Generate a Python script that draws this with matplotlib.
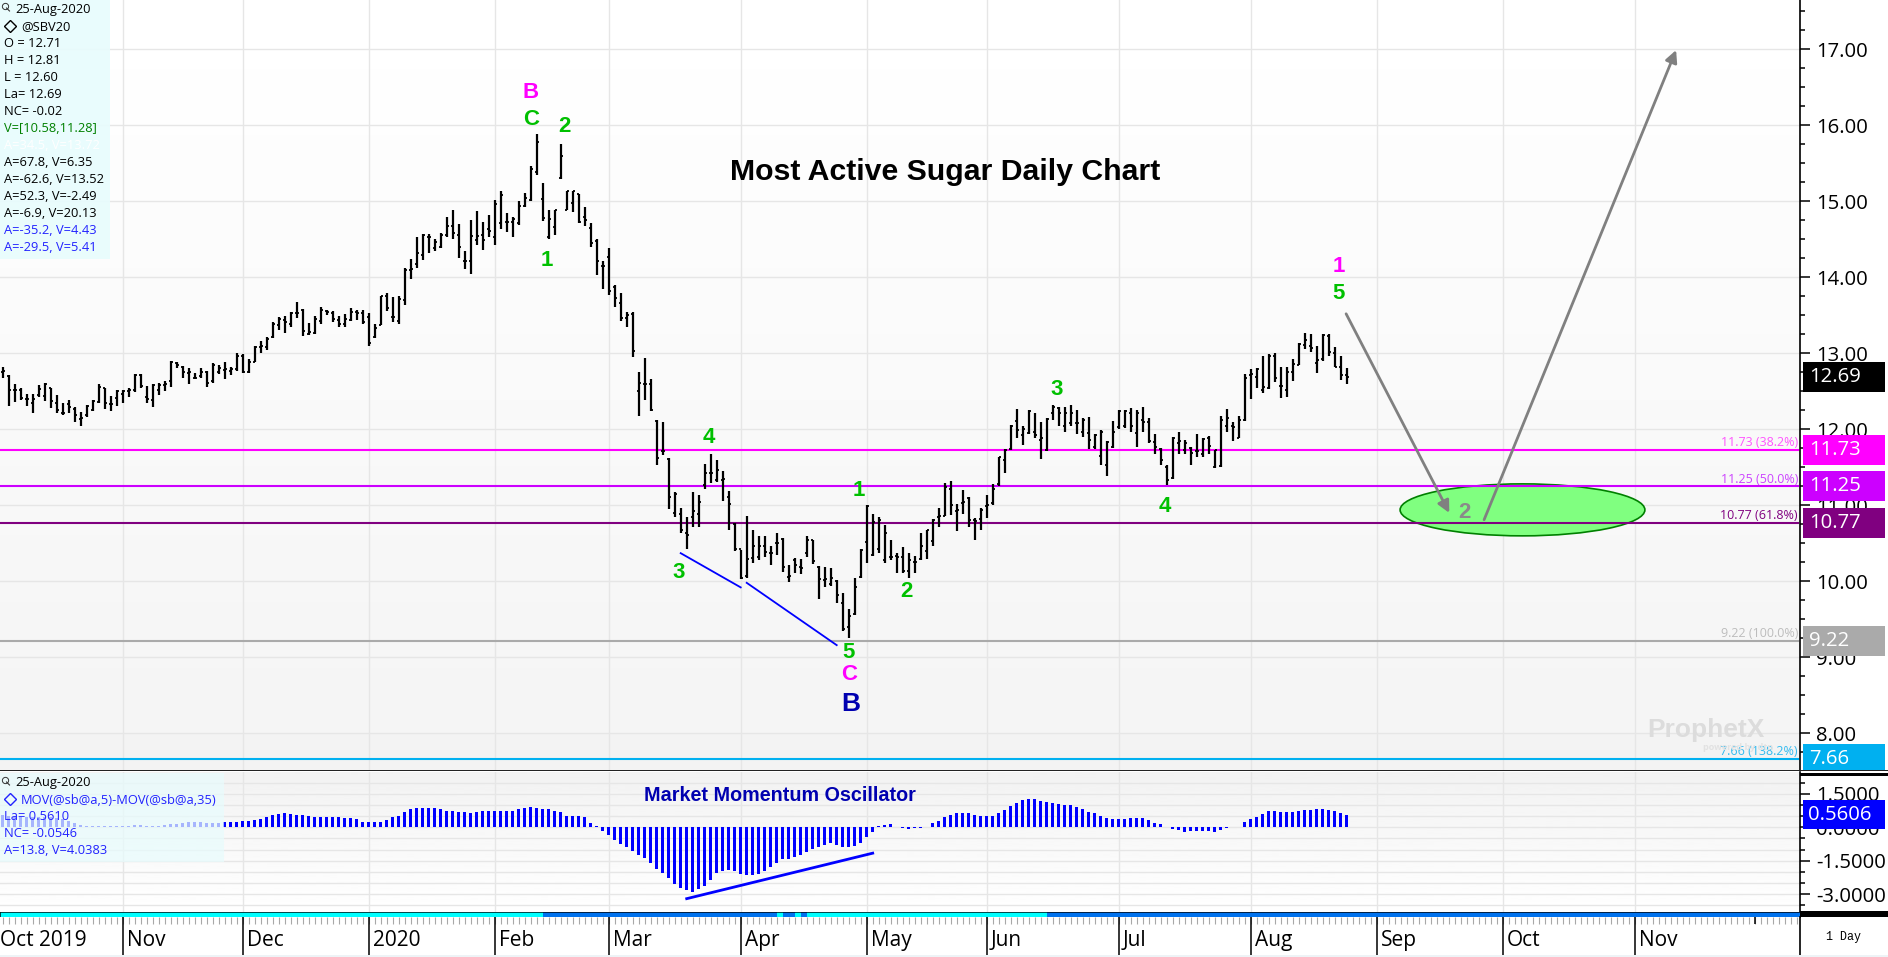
import numpy as np
import matplotlib
matplotlib.use("Agg")
import matplotlib.pyplot as plt
from matplotlib.patches import Ellipse, Rectangle
from matplotlib.ticker import FixedLocator, NullFormatter

highs = [12.82,12.72,12.59,12.55,12.46,12.46,12.58,12.61,12.55,12.45,
12.35,12.39,12.29,12.23,12.32,12.39,12.59,12.55,12.44,12.52,
12.52,12.55,12.73,12.73,12.57,12.59,12.61,12.63,12.90,12.88,
12.83,12.81,12.74,12.81,12.77,12.87,12.85,12.89,12.82,13.01,
12.99,12.92,13.10,13.16,13.21,13.41,13.48,13.49,13.54,13.67,
13.58,13.40,13.49,13.61,13.57,13.56,13.49,13.52,13.60,13.57,
13.57,13.53,13.39,13.76,13.79,13.74,13.76,14.12,14.24,14.53,
14.57,14.57,14.50,14.58,14.79,14.89,14.70,14.35,14.75,14.87,
14.73,14.82,15.02,15.13,14.85,14.80,15.00,15.11,15.46,15.89,
15.24,14.89,14.89,15.76,15.14,15.14,15.10,14.92,14.72,14.50,
14.21,14.39,13.90,13.79,13.54,13.54,12.75,12.94,12.66,12.12,
12.10,11.62,11.17,10.97,10.85,11.18,11.13,11.55,11.68,11.59,
11.45,11.19,10.77,10.41,10.86,10.67,10.59,10.59,10.46,10.64,
10.57,10.21,10.31,10.30,10.60,10.54,10.20,10.19,10.18,10.02,
9.84,9.63,10.04,10.43,11.01,10.89,10.85,10.74,10.55,10.37,
10.45,10.37,10.33,10.63,10.68,10.82,10.96,11.30,11.32,11.02,
11.20,11.11,10.83,10.96,11.13,11.28,11.64,11.74,12.06,12.27,
12.04,12.25,12.21,12.09,12.15,12.32,12.30,12.30,12.32,12.25,
12.15,12.16,11.94,11.99,11.84,12.11,12.25,12.25,12.28,12.25,
12.29,12.15,11.94,11.75,11.53,11.90,11.97,11.86,11.77,11.94,
11.89,11.91,11.73,12.18,12.27,12.10,12.18,12.73,12.80,12.81,
12.96,12.99,13.00,12.82,12.82,12.93,13.14,13.27,13.25,13.10,
13.25,13.25,13.08,12.97,12.81]

lows = [12.68,12.31,12.36,12.39,12.31,12.22,12.43,12.37,12.28,12.21,
12.19,12.22,12.10,12.05,12.16,12.24,12.34,12.27,12.24,12.31,
12.34,12.43,12.49,12.55,12.35,12.29,12.45,12.50,12.56,12.81,
12.68,12.60,12.66,12.67,12.56,12.61,12.73,12.66,12.71,12.77,
12.74,12.74,12.88,13.01,13.05,13.20,13.31,13.27,13.34,13.47,
13.23,13.24,13.26,13.39,13.51,13.41,13.35,13.35,13.42,13.44,
13.39,13.10,13.20,13.37,13.56,13.41,13.39,13.64,13.98,14.12,
14.23,14.32,14.34,14.39,14.53,14.50,14.26,14.11,14.05,14.42,
14.36,14.53,14.42,14.64,14.60,14.53,14.69,14.92,15.00,15.35,
14.74,14.50,14.56,15.30,14.88,14.86,14.71,14.67,14.40,14.03,
13.85,13.77,13.61,13.43,13.35,12.95,12.18,12.38,12.24,11.53,
11.66,10.95,10.85,10.64,10.43,10.72,10.72,11.21,11.29,11.31,
11.06,10.68,10.40,10.03,10.05,10.24,10.28,10.32,10.22,10.35,
10.12,9.99,10.11,10.10,10.32,10.23,9.77,9.93,9.94,9.71,
9.34,9.25,9.56,10.04,10.24,10.33,10.37,10.24,10.28,10.11,
10.11,10.05,10.11,10.28,10.29,10.47,10.72,10.86,10.87,10.66,
10.89,10.72,10.55,10.68,10.83,11.01,11.26,11.43,11.73,11.88,
11.80,11.94,11.88,11.61,11.71,12.12,12.04,11.96,12.04,11.94,
11.90,11.74,11.74,11.53,11.39,11.75,12.01,12.02,11.97,11.77,
11.97,11.82,11.68,11.53,11.27,11.34,11.68,11.68,11.53,11.64,
11.64,11.68,11.49,11.51,11.96,11.85,11.89,12.11,12.40,12.55,
12.48,12.53,12.62,12.41,12.43,12.64,12.84,13.06,13.02,12.74,
12.90,12.97,12.82,12.65,12.60]

opens = [12.76,12.70,12.52,12.52,12.40,12.34,12.45,12.44,12.54,12.34,
12.22,12.33,12.27,12.14,12.19,12.26,12.36,12.54,12.33,12.41,
12.47,12.51,12.52,12.72,12.42,12.38,12.52,12.58,12.63,12.87,
12.82,12.74,12.68,12.70,12.76,12.63,12.76,12.78,12.77,12.80,
12.97,12.75,12.89,13.08,13.08,13.22,13.37,13.44,13.39,13.53,
13.57,13.26,13.27,13.43,13.56,13.53,13.44,13.38,13.44,13.54,
13.53,13.48,13.22,13.37,13.75,13.48,13.42,13.70,14.10,14.18,
14.29,14.53,14.38,14.40,14.56,14.67,14.56,14.21,14.21,14.49,
14.56,14.64,14.53,14.71,14.73,14.73,14.71,14.94,15.02,15.38,
15.03,14.53,14.66,15.31,14.89,14.98,15.10,14.80,14.65,14.48,
14.15,14.27,13.87,13.66,13.47,13.52,12.51,12.60,12.60,12.11,
11.71,11.61,10.90,10.88,10.63,10.85,10.89,11.27,11.42,11.33,
11.33,11.11,10.76,10.42,10.07,10.31,10.32,10.46,10.37,10.50,
10.56,10.06,10.28,10.19,10.37,10.54,10.19,10.02,9.97,10.01,
9.71,9.40,9.57,10.06,10.52,10.35,10.43,10.28,10.32,10.33,
10.32,10.13,10.26,10.30,10.40,10.53,10.85,10.86,11.22,10.92,
11.03,11.10,10.81,10.82,10.99,11.03,11.28,11.60,11.74,12.11,
11.93,11.95,11.97,11.86,11.73,12.21,12.28,12.04,12.08,12.08,
11.96,11.95,11.77,11.65,11.53,11.77,12.03,12.05,12.22,11.95,
12.12,12.10,11.83,11.74,11.51,11.36,11.82,11.73,11.75,11.71,
11.68,11.88,11.50,11.52,12.04,12.04,11.89,12.12,12.72,12.69,
12.52,12.54,12.97,12.57,12.52,12.75,12.85,13.11,13.09,12.87,
12.92,13.23,13.00,12.82,12.71]

closes = [12.77,12.52,12.52,12.41,12.40,12.40,12.53,12.60,12.37,12.25,
12.21,12.30,12.19,12.15,12.31,12.37,12.56,12.34,12.33,12.51,
12.50,12.52,12.72,12.57,12.40,12.58,12.58,12.60,12.88,12.84,
12.76,12.76,12.68,12.76,12.61,12.85,12.81,12.80,12.80,12.97,
12.75,12.88,13.08,13.09,13.19,13.38,13.45,13.41,13.53,13.53,
13.30,13.28,13.45,13.57,13.54,13.45,13.38,13.45,13.54,13.53,
13.41,13.14,13.33,13.75,13.59,13.48,13.72,14.09,14.11,14.32,
14.56,14.53,14.46,14.56,14.67,14.58,14.40,14.21,14.55,14.54,
14.49,14.61,14.96,15.08,14.73,14.77,14.94,15.05,15.43,15.78,
14.78,14.77,14.89,15.59,15.13,15.13,14.73,14.75,14.45,14.21,
14.15,13.82,13.73,13.47,13.50,13.03,12.61,12.60,12.26,11.62,
11.71,11.11,11.15,10.67,10.61,10.92,11.05,11.42,11.42,11.46,
11.34,11.02,10.42,10.04,10.30,10.46,10.46,10.39,10.37,10.51,
10.19,10.07,10.21,10.17,10.54,10.27,10.03,10.03,10.04,9.82,
9.37,9.54,9.93,10.41,10.99,10.78,10.81,10.64,10.32,10.32,
10.13,10.28,10.26,10.47,10.68,10.81,10.86,11.24,11.00,10.94,
11.05,10.81,10.80,10.94,11.00,11.22,11.63,11.73,12.05,11.99,
12.01,12.24,11.92,11.88,12.14,12.30,12.21,12.21,12.21,12.08,
12.12,11.86,11.93,11.97,11.83,11.97,12.24,12.24,12.04,12.21,
12.10,11.84,11.77,11.60,11.33,11.88,11.84,11.82,11.69,11.71,
11.87,11.78,11.73,12.12,12.15,12.03,12.12,12.68,12.73,12.80,
12.56,12.97,12.68,12.57,12.75,12.86,13.12,13.17,13.07,12.91,
13.24,13.02,12.82,12.71,12.69]

oscillator = [.55,.50,.45,.45,.45,.45,.45,.45,.45,.40,
.35,.30,.20,.10,.08,.08,.08,.08,.08,.08,
.07,.07,.09,.09,.08,.07,.07,.10,.15,.17,
.20,.23,.23,.22,.20,.20,.20,.24,.25,.25,
.27,.27,.32,.36,.48,.55,.60,.62,.60,.57,
.54,.50,.47,.45,.44,.44,.44,.42,.40,.36,
.26,.25,.23,.26,.33,.45,.50,.70,.82,.85,
.88,.88,.85,.80,.75,.72,.68,.70,.65,.70,
.72,.72,.72,.72,.72,.72,.80,.85,.92,.88,
.82,.80,.75,.69,.51,.51,.51,.45,.21,.06,
-.15,-.34,-.57,-.75,-.87,-1.06,-1.24,-1.39,-1.58,-1.85,
-2.06,-2.27,-2.56,-2.71,-2.81,-2.88,-2.77,-2.62,-2.36,-2.06,
-1.94,-1.91,-1.94,-2.09,-2.14,-2.14,-2.09,-1.96,-1.76,-1.58,
-1.43,-1.42,-1.32,-1.24,-1.09,-.99,-.87,-.81,-.72,-.79,
-.87,-.87,-.84,-.69,-.43,-.21,.04,.10,.15,.01,
-.02,-.07,-.05,-.02,0,.18,.28,.48,.55,.63,
.66,.66,.55,.51,.51,.51,.66,.78,.97,1.11,
1.23,1.27,1.27,1.18,1.14,1.08,1.03,1.0,1.0,.90,
.81,.70,.63,.51,.40,.37,.37,.37,.42,.42,
.40,.33,.21,.13,0,-.06,-.10,-.19,-.18,-.18,
-.18,-.17,-.19,-.12,-.05,.01,.03,.22,.36,.48,
.61,.73,.73,.70,.67,.70,.73,.76,.79,.81,
.82,.78,.73,.64,.56]

month_labels = ["Nov","Dec","2020","Feb","Mar","Apr","May","Jun","Jul","Aug","Sep","Oct","Nov"]
month_bars = [20,40,61,82,101,123,144,164,186,208,229,250,272]

fib_levels = [11.73, 11.25, 10.77, 9.22, 7.66]
fib_pcts = ["38.2%", "50.0%", "61.8%", "100.0%", "138.2%"]
fib_colors = ["#ff00ff", "#cc00ff", "#800080", "#aaaaaa", "#00b0f0"]
fib_textc = ["#ff55ff", "#cc44ff", "#800080", "#bdbdbd", "#33bbf0"]
last_price = 12.69
last_osc = 0.5606

wave_labels = [
    (88.05,16.43,"B","#ff00ff",16), (88.05,16.08,"C","#00c000",16),
    (93.7,15.99,"2","#00c000",16), (90.7,14.22,"1","#00c000",16),
    (112.7,10.12,"3","#00c000",16), (117.7,11.89,"4","#00c000",16),
    (142.7,11.20,"1","#00c000",16), (140.9,9.06,"5","#00c000",16),
    (150.7,9.87,"2","#00c000",16), (141.0,8.77,"C","#ff00ff",16),
    (141.3,8.39,"B","#0000b0",19), (175.7,12.53,"3","#00c000",16),
    (193.7,10.98,"4","#00c000",16), (222.7,14.14,"1","#ff00ff",16),
    (222.7,13.79,"5","#00c000",16), (243.7,10.90,"2","#8a8a8a",16),
]
price_trend_a = ([113.0,123.0],[10.37,9.92])
price_trend_b = ([124.0,139.0],[9.98,9.16])
osc_trend = ([114,145],[-3.20,-1.16])
arrow_down = ((223.9,13.52),(241.1,10.90))
arrow_up = ((246.9,10.81),(278.9,16.99))
target_zone = (253.3,10.94,40.8,0.684)

strip_edges = [-0.45,90,94,129,130,132,133,134,174,299.55]
strip_states = ["c","b","b","c","b","c","b","c","b"]

W, H = 1888, 957
plt.rcParams["font.family"] = ["Open Sans", "DejaVu Sans"]
BOLD = ["Liberation Sans", "DejaVu Sans"]
fig = plt.figure(figsize=(W/100, H/100), dpi=100, facecolor="#ffffff")

def px_axes(x0, y0, x1, y1, **kw):
    return fig.add_axes([x0/W, 1-y1/H, (x1-x0)/W, (y1-y0)/H], **kw)

XLIM = (-0.45, 299.55)
MAIN_Y = (7.517, 17.649)
OSC_Y = (-3.798, 2.48)
AXIS_FS = 14.6

# backgrounds
bg = px_axes(0,0,1800,770); bg.axis("off")
bg.imshow(np.linspace(1.0,0.955,256)[:,None], cmap="gray", vmin=0, vmax=1, aspect="auto")
bg2 = px_axes(0,772,1800,912); bg2.axis("off")
bg2.imshow(np.linspace(0.95,1.0,256)[:,None], cmap="gray", vmin=0, vmax=1, aspect="auto")

GRID = "#e6e6e6"
# main panel
ax = px_axes(0,0,1800,770, facecolor="none")
ax.set_xlim(*XLIM); ax.set_ylim(*MAIN_Y)
k = np.arange(len(highs))
ax.set_axisbelow(True)
ax.yaxis.tick_right()
for s in ("left","top","bottom"): ax.spines[s].set_visible(False)
ax.spines["right"].set_linewidth(1.2)
ax.set_yticks(np.arange(8,18))
ax.set_yticklabels([f"{v:.2f}" for v in np.arange(8,18)], fontsize=AXIS_FS, ha="left")
ax.yaxis.set_minor_locator(FixedLocator(np.arange(7.75,17.6,0.25)))
ax.yaxis.set_minor_formatter(NullFormatter())
ax.tick_params(axis="y", which="major", length=7.5, width=1.1, pad=4, color="black")
ax.tick_params(axis="y", which="minor", length=3.6, width=1.1, color="black")
ax.set_xticks(month_bars); ax.tick_params(axis="x", length=0, labelbottom=False)
ax.grid(True, which="major", color=GRID, lw=1.0)

ax.add_patch(Ellipse(target_zone[:2], target_zone[2], target_zone[3], fc="#80ff80", ec="#008000", lw=1.2, zorder=1.5))
for lev, col, tc, pct in zip(fib_levels, fib_colors, fib_textc, fib_pcts):
    ax.hlines(lev, XLIM[0], 299.3, color=col, lw=1.5, zorder=2)
    ax.annotate(f"{lev:.2f} ({pct})", (299.2, lev), xytext=(0,5.2), textcoords="offset points",
                ha="right", va="center", fontsize=9.0, color=tc, zorder=3)
ax.vlines(k, lows, highs, color="black", lw=1.6, zorder=3)
ax.hlines(opens, k-0.33, k, color="black", lw=1.3, zorder=3)
ax.hlines(closes, k, k+0.33, color="black", lw=1.3, zorder=3)

for tx, ty, s, c, fs in wave_labels:
    ax.text(tx, ty, s, color=c, fontsize=fs, family=BOLD, fontweight="bold", ha="center", va="center", zorder=4)
ax.plot(*price_trend_a, color="#0000ff", lw=1.3, zorder=3)
ax.plot(*price_trend_b, color="#0000ff", lw=1.3, zorder=3)
for a, b in (arrow_down, arrow_up):
    ax.annotate("", xy=b, xytext=a, zorder=5,
                arrowprops=dict(arrowstyle="-|>", color="#808080", lw=2.0, mutation_scale=18, shrinkA=0, shrinkB=0))
ax.text(945.0/6-0.45, 15.38, "Most Active Sugar Daily Chart", fontsize=21.8, family=BOLD,
        fontweight="bold", ha="center", va="center", color="black", zorder=4)

# oscillator panel
ox = px_axes(0,772,1800,912, facecolor="none")
ox.set_xlim(*XLIM); ox.set_ylim(*OSC_Y)
ox.set_axisbelow(True)
ox.yaxis.tick_right()
for s in ("left","top","bottom"): ox.spines[s].set_visible(False)
ox.spines["right"].set_linewidth(1.2)
ticks = [-3.0,-1.5,0.0,1.5]
ox.set_yticks(ticks); ox.set_yticklabels([f"{v:.4f}" for v in ticks], fontsize=AXIS_FS, ha="left")
ox.yaxis.set_minor_locator(FixedLocator(np.arange(-3.5,2.1,0.5)))
ox.yaxis.set_minor_formatter(NullFormatter())
ox.tick_params(axis="y", which="major", length=7.5, width=1.1, pad=4)
ox.tick_params(axis="y", which="minor", length=3.6, width=1.1)
ox.set_xticks(month_bars); ox.tick_params(axis="x", length=0, labelbottom=False)
ox.grid(True, which="both", color=GRID, lw=1.0)
ox.bar(k, oscillator, width=0.45, color="#0000ff", zorder=3)
ox.plot(*osc_trend, color="#0000ff", lw=2.0, zorder=3)
ox.text(779.5/6-0.45, 1.42, "Market Momentum Oscillator", fontsize=14.2, family=BOLD, fontweight="bold",
        color="#0000b0", ha="center", va="center", zorder=4)

# value flags, right of the axis
fx = px_axes(1803,0,1884.5,770, facecolor="none"); fx.axis("off")
fx.set_xlim(0,81.5); fx.set_ylim(*MAIN_Y)
flag_vals = [last_price]+fib_levels
flag_cols = ["#000000"]+fib_colors
fx.barh(flag_vals, 81.5, left=0, height=30/76, color=flag_cols)
for v in flag_vals:
    fx.text(6, v, f"{v:.2f}", color="white", fontsize=AXIS_FS, va="center", ha="left", clip_on=True)
fo = px_axes(1803,772,1884.5,912, facecolor="none"); fo.axis("off")
fo.set_xlim(0,81.5); fo.set_ylim(*OSC_Y)
fo.barh([last_osc], 81.5, left=0, height=29.3/22.3, color="#0000ff")
fo.text(5, last_osc, f"{last_osc:.4f}", color="white", fontsize=AXIS_FS, va="center", ha="left")

# signal strip
sx = px_axes(0,912,1800,917, facecolor="#00ffff")
sx.set_xlim(*XLIM); sx.set_ylim(0,1); sx.set_xticks([]); sx.set_yticks([])
for st, a, b in zip(strip_states, strip_edges[:-1], strip_edges[1:]):
    sx.barh(0.5, b-a, left=a, height=1, color="#00ffff" if st=="c" else "#0072ee")
for s in sx.spines.values(): s.set_linewidth(0.5); s.set_color("black")

# time axis
tx = px_axes(0,917,1800,955, facecolor="white")
tx.set_xlim(*XLIM); tx.set_ylim(0,1); tx.set_yticks([]); tx.set_xticks([])
for s in ("left","top","bottom"): tx.spines[s].set_visible(False)
tx.spines["right"].set_linewidth(1.2)
tx.vlines(np.arange(0,300), 0.82, 1, color="#a8a8a8", lw=0.8)
tx.vlines(month_bars, 0, 1, color="black", lw=1.1)
tx.vlines([292], 0.82, 1, color="black", lw=1.1)
tx.annotate("Oct 2019", (XLIM[0], 0.37), xytext=(0,0), textcoords="offset points", va="center", ha="left", fontsize=15)
for m, lab in zip(month_bars, month_labels):
    tx.annotate(lab, (m, 0.37), xytext=(3,0), textcoords="offset points", va="center", ha="left", fontsize=15)

# overlay chrome
ui = px_axes(0,0,W,H, facecolor="none"); ui.axis("off")
ui.set_xlim(0,W); ui.set_ylim(H,0)
ui.add_patch(Rectangle((0,0),110,259, fc="#e8fcfd", ec="none", alpha=0.92))
ui.add_patch(Rectangle((0,773),224,89, fc="#e8fcfd", ec="none", alpha=0.72))
ui.add_patch(Rectangle((0,955),W,2, fc="#eef3f6", ec="none"))
ui.add_patch(Rectangle((0,770),1888,1.4, fc="#222222", ec="none"))
ui.add_patch(Rectangle((1800,773),88,3, fc="black", ec="none"))
ui.add_patch(Rectangle((1800,911),88,5.5, fc="black", ec="none"))
ui.text(1843,936.7,"1 Day",family="Liberation Mono",fontsize=8.4,ha="center",va="center")

info_lines = [("25-Aug-2020",15,9.3,"black"),("@SBV20",21,26.3,"black"),("O = 12.71",4,43.3,"black"),
    ("H = 12.81",4,60.3,"black"),("L = 12.60",4,77.3,"black"),("La= 12.69",4,94.3,"black"),
    ("NC= -0.02",4,111.3,"black"),("V=[10.58,11.28]",4,128.3,"#008000"),("A=34.5, V=13.72",4,145.3,"white"),
    ("A=67.8, V=6.35",4,162.3,"black"),("A=-62.6, V=13.52",4,179.3,"black"),("A=52.3, V=-2.49",4,196.3,"black"),
    ("A=-6.9, V=20.13",4,213.3,"black"),("A=-35.2, V=4.43",4,230.3,"#2222ff"),("A=-29.5, V=5.41",4,247.3,"#2222ff"),
    ("25-Aug-2020",15,782.7,"black"),("MOV(@sb@a,5)-MOV(@sb@a,35)",21,800,"#2222ff"),("La= 0.5610",4,816.7,"#2222ff"),
    ("NC= -0.0546",4,833.3,"#2222ff"),("A=13.8, V=4.0383",4,850.7,"#2222ff")]
for s, x, y, c in info_lines:
    ui.text(x,y,s,color=c,fontsize=9.3,va="center",ha="left")
for y, c in ((26,"black"),(799,"#2222ff")):
    ui.plot([9.5],[y],marker="D",ms=6,mfc="none",mec=c,mew=1.0)
for y in (6,780):
    ui.plot([5],[y],marker="o",ms=4.5,mfc="none",mec="#333333",mew=0.7)
    ui.plot([6.5,9.5],[y+2,y+5],color="#333333",lw=0.8)
ui.text(1706,730,"ProphetX",fontsize=19,family=BOLD,fontweight="bold",color="#dcdcdc",ha="center",va="center")
ui.text(1738,747,"powered by dtn",fontsize=6.5,fontweight="bold",color="#e2e2e2",ha="center",va="center")

fig.savefig("out.png", dpi=100)
